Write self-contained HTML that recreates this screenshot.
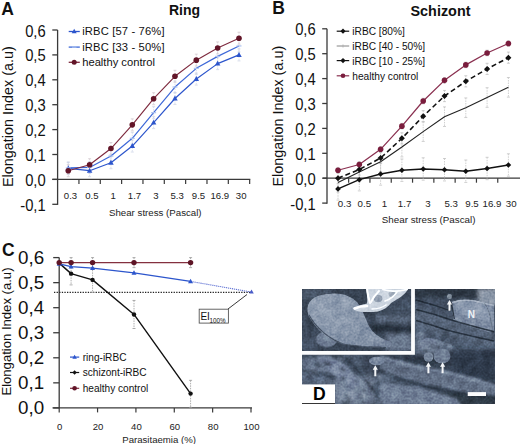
<!DOCTYPE html>
<html><head><meta charset="utf-8"><style>
html,body{margin:0;padding:0;background:#fff;}
svg{display:block;}
text{font-family:"Liberation Sans", sans-serif;}
</style></head><body>
<svg width="520" height="444" viewBox="0 0 520 444">
<rect width="520" height="444" fill="#fff"/>
<text x="1.20" y="14.60" font-size="17.5" text-anchor="start" font-weight="bold" fill="#111" >A</text>
<text x="169.00" y="15.00" font-size="14" text-anchor="start" font-weight="bold" fill="#111" >Ring</text>
<line x1="57.60" y1="30.00" x2="57.60" y2="204.90" stroke="#3a3a3a" stroke-width="1.3" />
<line x1="52.30" y1="30.00" x2="57.60" y2="30.00" stroke="#3a3a3a" stroke-width="1.3" />
<text transform="translate(45.70,36.50) scale(0.955,1.1)" font-size="15.5" text-anchor="end" font-weight="normal" fill="#111" >0,6</text>
<line x1="52.30" y1="54.90" x2="57.60" y2="54.90" stroke="#3a3a3a" stroke-width="1.3" />
<text transform="translate(45.70,61.40) scale(0.955,1.1)" font-size="15.5" text-anchor="end" font-weight="normal" fill="#111" >0,5</text>
<line x1="52.30" y1="79.80" x2="57.60" y2="79.80" stroke="#3a3a3a" stroke-width="1.3" />
<text transform="translate(45.70,86.30) scale(0.955,1.1)" font-size="15.5" text-anchor="end" font-weight="normal" fill="#111" >0,4</text>
<line x1="52.30" y1="104.70" x2="57.60" y2="104.70" stroke="#3a3a3a" stroke-width="1.3" />
<text transform="translate(45.70,111.20) scale(0.955,1.1)" font-size="15.5" text-anchor="end" font-weight="normal" fill="#111" >0,3</text>
<line x1="52.30" y1="129.60" x2="57.60" y2="129.60" stroke="#3a3a3a" stroke-width="1.3" />
<text transform="translate(45.70,136.10) scale(0.955,1.1)" font-size="15.5" text-anchor="end" font-weight="normal" fill="#111" >0,2</text>
<line x1="52.30" y1="154.50" x2="57.60" y2="154.50" stroke="#3a3a3a" stroke-width="1.3" />
<text transform="translate(45.70,161.00) scale(0.955,1.1)" font-size="15.5" text-anchor="end" font-weight="normal" fill="#111" >0,1</text>
<line x1="52.30" y1="179.40" x2="57.60" y2="179.40" stroke="#3a3a3a" stroke-width="1.3" />
<text transform="translate(45.70,185.90) scale(0.955,1.1)" font-size="15.5" text-anchor="end" font-weight="normal" fill="#111" >0,0</text>
<line x1="52.30" y1="204.30" x2="57.60" y2="204.30" stroke="#3a3a3a" stroke-width="1.3" />
<text transform="translate(45.70,210.80) scale(0.955,1.1)" font-size="15.5" text-anchor="end" font-weight="normal" fill="#111" >-0,1</text>
<line x1="52.30" y1="179.40" x2="250.30" y2="179.40" stroke="#3a3a3a" stroke-width="1.3" />
<line x1="78.94" y1="179.40" x2="78.94" y2="183.90" stroke="#3a3a3a" stroke-width="1.2" />
<line x1="100.28" y1="179.40" x2="100.28" y2="183.90" stroke="#3a3a3a" stroke-width="1.2" />
<line x1="121.62" y1="179.40" x2="121.62" y2="183.90" stroke="#3a3a3a" stroke-width="1.2" />
<line x1="142.96" y1="179.40" x2="142.96" y2="183.90" stroke="#3a3a3a" stroke-width="1.2" />
<line x1="164.30" y1="179.40" x2="164.30" y2="183.90" stroke="#3a3a3a" stroke-width="1.2" />
<line x1="185.64" y1="179.40" x2="185.64" y2="183.90" stroke="#3a3a3a" stroke-width="1.2" />
<line x1="206.98" y1="179.40" x2="206.98" y2="183.90" stroke="#3a3a3a" stroke-width="1.2" />
<line x1="228.32" y1="179.40" x2="228.32" y2="183.90" stroke="#3a3a3a" stroke-width="1.2" />
<line x1="249.66" y1="179.40" x2="249.66" y2="183.90" stroke="#3a3a3a" stroke-width="1.2" />
<text x="70.47" y="198.70" font-size="9.6" text-anchor="middle" font-weight="normal" fill="#222" >0.3</text>
<text x="91.81" y="198.70" font-size="9.6" text-anchor="middle" font-weight="normal" fill="#222" >0.5</text>
<text x="113.15" y="198.70" font-size="9.6" text-anchor="middle" font-weight="normal" fill="#222" >1</text>
<text x="134.49" y="198.70" font-size="9.6" text-anchor="middle" font-weight="normal" fill="#222" >1.7</text>
<text x="155.83" y="198.70" font-size="9.6" text-anchor="middle" font-weight="normal" fill="#222" >3</text>
<text x="177.17" y="198.70" font-size="9.6" text-anchor="middle" font-weight="normal" fill="#222" >5.3</text>
<text x="198.51" y="198.70" font-size="9.6" text-anchor="middle" font-weight="normal" fill="#222" >9.5</text>
<text x="219.85" y="198.70" font-size="9.6" text-anchor="middle" font-weight="normal" fill="#222" >16.9</text>
<text x="241.19" y="198.70" font-size="9.6" text-anchor="middle" font-weight="normal" fill="#222" >30</text>
<text x="109.00" y="216.20" font-size="9.7" text-anchor="start" font-weight="normal" fill="#222" >Shear stress (Pascal)</text>
<text transform="translate(12.9,187) rotate(-90)" font-size="14.4" fill="#111">Elongation Index (a.u)</text>
<line x1="68.27" y1="161.95" x2="68.27" y2="173.95" stroke="#c8d0e4" stroke-width="0.7" stroke-dasharray="1.5,1"/>
<line x1="66.77" y1="161.95" x2="69.77" y2="161.95" stroke="#c8d0e4" stroke-width="0.7"/>
<line x1="66.77" y1="173.95" x2="69.77" y2="173.95" stroke="#c8d0e4" stroke-width="0.7"/>
<line x1="89.61" y1="161.45" x2="89.61" y2="173.45" stroke="#c8d0e4" stroke-width="0.7" stroke-dasharray="1.5,1"/>
<line x1="88.11" y1="161.45" x2="91.11" y2="161.45" stroke="#c8d0e4" stroke-width="0.7"/>
<line x1="88.11" y1="173.45" x2="91.11" y2="173.45" stroke="#c8d0e4" stroke-width="0.7"/>
<line x1="110.95" y1="149.99" x2="110.95" y2="161.99" stroke="#c8d0e4" stroke-width="0.7" stroke-dasharray="1.5,1"/>
<line x1="109.45" y1="149.99" x2="112.45" y2="149.99" stroke="#c8d0e4" stroke-width="0.7"/>
<line x1="109.45" y1="161.99" x2="112.45" y2="161.99" stroke="#c8d0e4" stroke-width="0.7"/>
<line x1="132.29" y1="132.31" x2="132.29" y2="144.31" stroke="#c8d0e4" stroke-width="0.7" stroke-dasharray="1.5,1"/>
<line x1="130.79" y1="132.31" x2="133.79" y2="132.31" stroke="#c8d0e4" stroke-width="0.7"/>
<line x1="130.79" y1="144.31" x2="133.79" y2="144.31" stroke="#c8d0e4" stroke-width="0.7"/>
<line x1="153.63" y1="106.67" x2="153.63" y2="118.67" stroke="#c8d0e4" stroke-width="0.7" stroke-dasharray="1.5,1"/>
<line x1="152.13" y1="106.67" x2="155.13" y2="106.67" stroke="#c8d0e4" stroke-width="0.7"/>
<line x1="152.13" y1="118.67" x2="155.13" y2="118.67" stroke="#c8d0e4" stroke-width="0.7"/>
<line x1="174.97" y1="81.02" x2="174.97" y2="93.02" stroke="#c8d0e4" stroke-width="0.7" stroke-dasharray="1.5,1"/>
<line x1="173.47" y1="81.02" x2="176.47" y2="81.02" stroke="#c8d0e4" stroke-width="0.7"/>
<line x1="173.47" y1="93.02" x2="176.47" y2="93.02" stroke="#c8d0e4" stroke-width="0.7"/>
<line x1="196.31" y1="62.35" x2="196.31" y2="74.35" stroke="#c8d0e4" stroke-width="0.7" stroke-dasharray="1.5,1"/>
<line x1="194.81" y1="62.35" x2="197.81" y2="62.35" stroke="#c8d0e4" stroke-width="0.7"/>
<line x1="194.81" y1="74.35" x2="197.81" y2="74.35" stroke="#c8d0e4" stroke-width="0.7"/>
<line x1="217.65" y1="50.39" x2="217.65" y2="62.39" stroke="#c8d0e4" stroke-width="0.7" stroke-dasharray="1.5,1"/>
<line x1="216.15" y1="50.39" x2="219.15" y2="50.39" stroke="#c8d0e4" stroke-width="0.7"/>
<line x1="216.15" y1="62.39" x2="219.15" y2="62.39" stroke="#c8d0e4" stroke-width="0.7"/>
<line x1="238.99" y1="39.94" x2="238.99" y2="51.94" stroke="#c8d0e4" stroke-width="0.7" stroke-dasharray="1.5,1"/>
<line x1="237.49" y1="39.94" x2="240.49" y2="39.94" stroke="#c8d0e4" stroke-width="0.7"/>
<line x1="237.49" y1="51.94" x2="240.49" y2="51.94" stroke="#c8d0e4" stroke-width="0.7"/>
<line x1="68.27" y1="162.44" x2="68.27" y2="174.44" stroke="#c8d0e4" stroke-width="0.7" stroke-dasharray="1.5,1"/>
<line x1="66.77" y1="162.44" x2="69.77" y2="162.44" stroke="#c8d0e4" stroke-width="0.7"/>
<line x1="66.77" y1="174.44" x2="69.77" y2="174.44" stroke="#c8d0e4" stroke-width="0.7"/>
<line x1="89.61" y1="164.69" x2="89.61" y2="176.69" stroke="#c8d0e4" stroke-width="0.7" stroke-dasharray="1.5,1"/>
<line x1="88.11" y1="164.69" x2="91.11" y2="164.69" stroke="#c8d0e4" stroke-width="0.7"/>
<line x1="88.11" y1="176.69" x2="91.11" y2="176.69" stroke="#c8d0e4" stroke-width="0.7"/>
<line x1="110.95" y1="156.72" x2="110.95" y2="168.72" stroke="#c8d0e4" stroke-width="0.7" stroke-dasharray="1.5,1"/>
<line x1="109.45" y1="156.72" x2="112.45" y2="156.72" stroke="#c8d0e4" stroke-width="0.7"/>
<line x1="109.45" y1="168.72" x2="112.45" y2="168.72" stroke="#c8d0e4" stroke-width="0.7"/>
<line x1="132.29" y1="140.03" x2="132.29" y2="152.03" stroke="#c8d0e4" stroke-width="0.7" stroke-dasharray="1.5,1"/>
<line x1="130.79" y1="140.03" x2="133.79" y2="140.03" stroke="#c8d0e4" stroke-width="0.7"/>
<line x1="130.79" y1="152.03" x2="133.79" y2="152.03" stroke="#c8d0e4" stroke-width="0.7"/>
<line x1="153.63" y1="116.63" x2="153.63" y2="128.63" stroke="#c8d0e4" stroke-width="0.7" stroke-dasharray="1.5,1"/>
<line x1="152.13" y1="116.63" x2="155.13" y2="116.63" stroke="#c8d0e4" stroke-width="0.7"/>
<line x1="152.13" y1="128.63" x2="155.13" y2="128.63" stroke="#c8d0e4" stroke-width="0.7"/>
<line x1="174.97" y1="92.48" x2="174.97" y2="104.48" stroke="#c8d0e4" stroke-width="0.7" stroke-dasharray="1.5,1"/>
<line x1="173.47" y1="92.48" x2="176.47" y2="92.48" stroke="#c8d0e4" stroke-width="0.7"/>
<line x1="173.47" y1="104.48" x2="176.47" y2="104.48" stroke="#c8d0e4" stroke-width="0.7"/>
<line x1="196.31" y1="73.05" x2="196.31" y2="85.05" stroke="#c8d0e4" stroke-width="0.7" stroke-dasharray="1.5,1"/>
<line x1="194.81" y1="73.05" x2="197.81" y2="73.05" stroke="#c8d0e4" stroke-width="0.7"/>
<line x1="194.81" y1="85.05" x2="197.81" y2="85.05" stroke="#c8d0e4" stroke-width="0.7"/>
<line x1="217.65" y1="57.62" x2="217.65" y2="69.62" stroke="#c8d0e4" stroke-width="0.7" stroke-dasharray="1.5,1"/>
<line x1="216.15" y1="57.62" x2="219.15" y2="57.62" stroke="#c8d0e4" stroke-width="0.7"/>
<line x1="216.15" y1="69.62" x2="219.15" y2="69.62" stroke="#c8d0e4" stroke-width="0.7"/>
<line x1="238.99" y1="48.90" x2="238.99" y2="60.90" stroke="#c8d0e4" stroke-width="0.7" stroke-dasharray="1.5,1"/>
<line x1="237.49" y1="48.90" x2="240.49" y2="48.90" stroke="#c8d0e4" stroke-width="0.7"/>
<line x1="237.49" y1="60.90" x2="240.49" y2="60.90" stroke="#c8d0e4" stroke-width="0.7"/>
<line x1="68.27" y1="164.69" x2="68.27" y2="176.69" stroke="#d0c4cc" stroke-width="0.7" stroke-dasharray="1.5,1"/>
<line x1="66.77" y1="164.69" x2="69.77" y2="164.69" stroke="#d0c4cc" stroke-width="0.7"/>
<line x1="66.77" y1="176.69" x2="69.77" y2="176.69" stroke="#d0c4cc" stroke-width="0.7"/>
<line x1="89.61" y1="158.71" x2="89.61" y2="170.71" stroke="#d0c4cc" stroke-width="0.7" stroke-dasharray="1.5,1"/>
<line x1="88.11" y1="158.71" x2="91.11" y2="158.71" stroke="#d0c4cc" stroke-width="0.7"/>
<line x1="88.11" y1="170.71" x2="91.11" y2="170.71" stroke="#d0c4cc" stroke-width="0.7"/>
<line x1="110.95" y1="142.52" x2="110.95" y2="154.52" stroke="#d0c4cc" stroke-width="0.7" stroke-dasharray="1.5,1"/>
<line x1="109.45" y1="142.52" x2="112.45" y2="142.52" stroke="#d0c4cc" stroke-width="0.7"/>
<line x1="109.45" y1="154.52" x2="112.45" y2="154.52" stroke="#d0c4cc" stroke-width="0.7"/>
<line x1="132.29" y1="118.87" x2="132.29" y2="130.87" stroke="#d0c4cc" stroke-width="0.7" stroke-dasharray="1.5,1"/>
<line x1="130.79" y1="118.87" x2="133.79" y2="118.87" stroke="#d0c4cc" stroke-width="0.7"/>
<line x1="130.79" y1="130.87" x2="133.79" y2="130.87" stroke="#d0c4cc" stroke-width="0.7"/>
<line x1="153.63" y1="92.72" x2="153.63" y2="104.72" stroke="#d0c4cc" stroke-width="0.7" stroke-dasharray="1.5,1"/>
<line x1="152.13" y1="92.72" x2="155.13" y2="92.72" stroke="#d0c4cc" stroke-width="0.7"/>
<line x1="152.13" y1="104.72" x2="155.13" y2="104.72" stroke="#d0c4cc" stroke-width="0.7"/>
<line x1="174.97" y1="70.31" x2="174.97" y2="82.31" stroke="#d0c4cc" stroke-width="0.7" stroke-dasharray="1.5,1"/>
<line x1="173.47" y1="70.31" x2="176.47" y2="70.31" stroke="#d0c4cc" stroke-width="0.7"/>
<line x1="173.47" y1="82.31" x2="176.47" y2="82.31" stroke="#d0c4cc" stroke-width="0.7"/>
<line x1="196.31" y1="54.13" x2="196.31" y2="66.13" stroke="#d0c4cc" stroke-width="0.7" stroke-dasharray="1.5,1"/>
<line x1="194.81" y1="54.13" x2="197.81" y2="54.13" stroke="#d0c4cc" stroke-width="0.7"/>
<line x1="194.81" y1="66.13" x2="197.81" y2="66.13" stroke="#d0c4cc" stroke-width="0.7"/>
<line x1="217.65" y1="41.93" x2="217.65" y2="53.93" stroke="#d0c4cc" stroke-width="0.7" stroke-dasharray="1.5,1"/>
<line x1="216.15" y1="41.93" x2="219.15" y2="41.93" stroke="#d0c4cc" stroke-width="0.7"/>
<line x1="216.15" y1="53.93" x2="219.15" y2="53.93" stroke="#d0c4cc" stroke-width="0.7"/>
<line x1="238.99" y1="32.22" x2="238.99" y2="44.22" stroke="#d0c4cc" stroke-width="0.7" stroke-dasharray="1.5,1"/>
<line x1="237.49" y1="32.22" x2="240.49" y2="32.22" stroke="#d0c4cc" stroke-width="0.7"/>
<line x1="237.49" y1="44.22" x2="240.49" y2="44.22" stroke="#d0c4cc" stroke-width="0.7"/>
<polyline points="68.27,168.44 89.61,170.69 110.95,162.72 132.29,146.03 153.63,122.63 174.97,98.48 196.31,79.05 217.65,63.62 238.99,54.90" fill="none" stroke="#2c55cc" stroke-width="1.2" stroke-linejoin="round" />
<polyline points="68.27,167.95 89.61,167.45 110.95,155.99 132.29,138.31 153.63,112.67 174.97,87.02 196.31,68.35 217.65,56.39 238.99,45.94" fill="none" stroke="#3d68d8" stroke-width="1.2" stroke-linejoin="round" />
<polyline points="68.27,170.69 89.61,164.71 110.95,148.52 132.29,124.87 153.63,98.72 174.97,76.31 196.31,60.13 217.65,47.93 238.99,38.22" fill="none" stroke="#7e2a3e" stroke-width="1.15" stroke-linejoin="round" />
<polygon points="68.27,165.47 65.52,170.42 71.02,170.42" fill="#2c55cc"/>
<polygon points="89.61,167.72 86.86,172.66 92.36,172.66" fill="#2c55cc"/>
<polygon points="110.95,159.75 108.20,164.70 113.70,164.70" fill="#2c55cc"/>
<polygon points="132.29,143.06 129.54,148.01 135.04,148.01" fill="#2c55cc"/>
<polygon points="153.63,119.66 150.88,124.61 156.38,124.61" fill="#2c55cc"/>
<polygon points="174.97,95.51 172.22,100.46 177.72,100.46" fill="#2c55cc"/>
<polygon points="196.31,76.08 193.56,81.03 199.06,81.03" fill="#2c55cc"/>
<polygon points="217.65,60.65 214.90,65.60 220.40,65.60" fill="#2c55cc"/>
<polygon points="238.99,51.93 236.24,56.88 241.74,56.88" fill="#2c55cc"/>
<line x1="65.77" y1="167.95" x2="70.77" y2="167.95" stroke="#a9c0f0" stroke-width="1.2" />
<line x1="87.11" y1="167.45" x2="92.11" y2="167.45" stroke="#a9c0f0" stroke-width="1.2" />
<line x1="108.45" y1="155.99" x2="113.45" y2="155.99" stroke="#a9c0f0" stroke-width="1.2" />
<line x1="129.79" y1="138.31" x2="134.79" y2="138.31" stroke="#a9c0f0" stroke-width="1.2" />
<line x1="151.13" y1="112.67" x2="156.13" y2="112.67" stroke="#a9c0f0" stroke-width="1.2" />
<line x1="172.47" y1="87.02" x2="177.47" y2="87.02" stroke="#a9c0f0" stroke-width="1.2" />
<line x1="193.81" y1="68.35" x2="198.81" y2="68.35" stroke="#a9c0f0" stroke-width="1.2" />
<line x1="215.15" y1="56.39" x2="220.15" y2="56.39" stroke="#a9c0f0" stroke-width="1.2" />
<line x1="236.49" y1="45.94" x2="241.49" y2="45.94" stroke="#a9c0f0" stroke-width="1.2" />
<circle cx="68.27" cy="170.69" r="2.8" fill="#621528"/>
<circle cx="89.61" cy="164.71" r="2.8" fill="#621528"/>
<circle cx="110.95" cy="148.52" r="2.8" fill="#621528"/>
<circle cx="132.29" cy="124.87" r="2.8" fill="#621528"/>
<circle cx="153.63" cy="98.72" r="2.8" fill="#621528"/>
<circle cx="174.97" cy="76.31" r="2.8" fill="#621528"/>
<circle cx="196.31" cy="60.13" r="2.8" fill="#621528"/>
<circle cx="217.65" cy="47.93" r="2.8" fill="#621528"/>
<circle cx="238.99" cy="38.22" r="2.8" fill="#621528"/>
<line x1="68.70" y1="31.50" x2="79.80" y2="31.50" stroke="#2c55cc" stroke-width="1.3" />
<polygon points="74.20,28.80 71.70,33.30 76.70,33.30" fill="#2c55cc"/>
<text x="82.20" y="35.40" font-size="11.2" text-anchor="start" font-weight="normal" fill="#111" letter-spacing="0.15">iRBC [57 - 76%]</text>
<line x1="68.70" y1="47.10" x2="79.80" y2="47.10" stroke="#3d68d8" stroke-width="1.3" />
<line x1="72.00" y1="47.10" x2="76.50" y2="47.10" stroke="#a9c0f0" stroke-width="1.2" />
<text x="82.20" y="51.00" font-size="11.2" text-anchor="start" font-weight="normal" fill="#111" letter-spacing="0.15">iRBC [33 - 50%]</text>
<line x1="68.70" y1="62.30" x2="79.80" y2="62.30" stroke="#7e2a3e" stroke-width="1.3" />
<circle cx="74.20" cy="62.30" r="2.5" fill="#621528"/>
<text x="82.20" y="66.20" font-size="11.2" text-anchor="start" font-weight="normal" fill="#111" >healthy control</text>
<text x="272.30" y="13.70" font-size="17.5" text-anchor="start" font-weight="bold" fill="#111" >B</text>
<text x="410.50" y="16.20" font-size="14.4" text-anchor="start" font-weight="bold" fill="#111" >Schizont</text>
<line x1="327.00" y1="28.80" x2="327.00" y2="203.70" stroke="#3a3a3a" stroke-width="1.3" />
<line x1="322.20" y1="28.80" x2="327.00" y2="28.80" stroke="#3a3a3a" stroke-width="1.3" />
<text transform="translate(315.70,35.30) scale(0.955,1.1)" font-size="15.5" text-anchor="end" font-weight="normal" fill="#111" >0,6</text>
<line x1="322.20" y1="53.70" x2="327.00" y2="53.70" stroke="#3a3a3a" stroke-width="1.3" />
<text transform="translate(315.70,60.20) scale(0.955,1.1)" font-size="15.5" text-anchor="end" font-weight="normal" fill="#111" >0,5</text>
<line x1="322.20" y1="78.60" x2="327.00" y2="78.60" stroke="#3a3a3a" stroke-width="1.3" />
<text transform="translate(315.70,85.10) scale(0.955,1.1)" font-size="15.5" text-anchor="end" font-weight="normal" fill="#111" >0,4</text>
<line x1="322.20" y1="103.50" x2="327.00" y2="103.50" stroke="#3a3a3a" stroke-width="1.3" />
<text transform="translate(315.70,110.00) scale(0.955,1.1)" font-size="15.5" text-anchor="end" font-weight="normal" fill="#111" >0,3</text>
<line x1="322.20" y1="128.40" x2="327.00" y2="128.40" stroke="#3a3a3a" stroke-width="1.3" />
<text transform="translate(315.70,134.90) scale(0.955,1.1)" font-size="15.5" text-anchor="end" font-weight="normal" fill="#111" >0,2</text>
<line x1="322.20" y1="153.30" x2="327.00" y2="153.30" stroke="#3a3a3a" stroke-width="1.3" />
<text transform="translate(315.70,159.80) scale(0.955,1.1)" font-size="15.5" text-anchor="end" font-weight="normal" fill="#111" >0,1</text>
<line x1="322.20" y1="178.20" x2="327.00" y2="178.20" stroke="#3a3a3a" stroke-width="1.3" />
<text transform="translate(315.70,184.70) scale(0.955,1.1)" font-size="15.5" text-anchor="end" font-weight="normal" fill="#111" >0,0</text>
<line x1="322.20" y1="203.10" x2="327.00" y2="203.10" stroke="#3a3a3a" stroke-width="1.3" />
<text transform="translate(315.70,209.60) scale(0.955,1.1)" font-size="15.5" text-anchor="end" font-weight="normal" fill="#111" >-0,1</text>
<line x1="322.80" y1="178.20" x2="520.00" y2="178.20" stroke="#3a3a3a" stroke-width="1.3" />
<line x1="348.65" y1="178.20" x2="348.65" y2="182.70" stroke="#3a3a3a" stroke-width="1.2" />
<line x1="369.95" y1="178.20" x2="369.95" y2="182.70" stroke="#3a3a3a" stroke-width="1.2" />
<line x1="391.25" y1="178.20" x2="391.25" y2="182.70" stroke="#3a3a3a" stroke-width="1.2" />
<line x1="412.55" y1="178.20" x2="412.55" y2="182.70" stroke="#3a3a3a" stroke-width="1.2" />
<line x1="433.85" y1="178.20" x2="433.85" y2="182.70" stroke="#3a3a3a" stroke-width="1.2" />
<line x1="455.15" y1="178.20" x2="455.15" y2="182.70" stroke="#3a3a3a" stroke-width="1.2" />
<line x1="476.45" y1="178.20" x2="476.45" y2="182.70" stroke="#3a3a3a" stroke-width="1.2" />
<line x1="497.75" y1="178.20" x2="497.75" y2="182.70" stroke="#3a3a3a" stroke-width="1.2" />
<text x="344.60" y="206.80" font-size="9.7" text-anchor="middle" font-weight="normal" fill="#222" >0.3</text>
<text x="364.30" y="206.80" font-size="9.7" text-anchor="middle" font-weight="normal" fill="#222" >0.5</text>
<text x="384.50" y="206.80" font-size="9.7" text-anchor="middle" font-weight="normal" fill="#222" >1</text>
<text x="404.60" y="206.80" font-size="9.7" text-anchor="middle" font-weight="normal" fill="#222" >1.7</text>
<text x="428.00" y="206.80" font-size="9.7" text-anchor="middle" font-weight="normal" fill="#222" >3</text>
<text x="451.20" y="206.80" font-size="9.7" text-anchor="middle" font-weight="normal" fill="#222" >5.3</text>
<text x="472.00" y="206.80" font-size="9.7" text-anchor="middle" font-weight="normal" fill="#222" >9.5</text>
<text x="492.00" y="206.80" font-size="9.7" text-anchor="middle" font-weight="normal" fill="#222" >16.9</text>
<text x="511.20" y="206.80" font-size="9.7" text-anchor="middle" font-weight="normal" fill="#222" >30</text>
<text x="381.80" y="223.30" font-size="9.8" text-anchor="start" font-weight="normal" fill="#222" >Shear stress (Pascal)</text>
<text transform="translate(283,186.6) rotate(-90)" font-size="14.4" fill="#111">Elongation Index (a.u)</text>
<line x1="338.00" y1="167.43" x2="338.00" y2="173.03" stroke="#bcbcbc" stroke-width="0.7" stroke-dasharray="1.5,1"/>
<line x1="336.50" y1="167.43" x2="339.50" y2="167.43" stroke="#bcbcbc" stroke-width="0.7"/>
<line x1="336.50" y1="173.03" x2="339.50" y2="173.03" stroke="#bcbcbc" stroke-width="0.7"/>
<line x1="359.30" y1="161.70" x2="359.30" y2="167.31" stroke="#bcbcbc" stroke-width="0.7" stroke-dasharray="1.5,1"/>
<line x1="357.80" y1="161.70" x2="360.80" y2="161.70" stroke="#bcbcbc" stroke-width="0.7"/>
<line x1="357.80" y1="167.31" x2="360.80" y2="167.31" stroke="#bcbcbc" stroke-width="0.7"/>
<line x1="380.60" y1="146.52" x2="380.60" y2="152.12" stroke="#bcbcbc" stroke-width="0.7" stroke-dasharray="1.5,1"/>
<line x1="379.10" y1="146.52" x2="382.10" y2="146.52" stroke="#bcbcbc" stroke-width="0.7"/>
<line x1="379.10" y1="152.12" x2="382.10" y2="152.12" stroke="#bcbcbc" stroke-width="0.7"/>
<line x1="401.90" y1="123.36" x2="401.90" y2="128.96" stroke="#bcbcbc" stroke-width="0.7" stroke-dasharray="1.5,1"/>
<line x1="400.40" y1="123.36" x2="403.40" y2="123.36" stroke="#bcbcbc" stroke-width="0.7"/>
<line x1="400.40" y1="128.96" x2="403.40" y2="128.96" stroke="#bcbcbc" stroke-width="0.7"/>
<line x1="423.20" y1="98.21" x2="423.20" y2="103.81" stroke="#bcbcbc" stroke-width="0.7" stroke-dasharray="1.5,1"/>
<line x1="421.70" y1="98.21" x2="424.70" y2="98.21" stroke="#bcbcbc" stroke-width="0.7"/>
<line x1="421.70" y1="103.81" x2="424.70" y2="103.81" stroke="#bcbcbc" stroke-width="0.7"/>
<line x1="444.50" y1="77.54" x2="444.50" y2="83.14" stroke="#bcbcbc" stroke-width="0.7" stroke-dasharray="1.5,1"/>
<line x1="443.00" y1="77.54" x2="446.00" y2="77.54" stroke="#bcbcbc" stroke-width="0.7"/>
<line x1="443.00" y1="83.14" x2="446.00" y2="83.14" stroke="#bcbcbc" stroke-width="0.7"/>
<line x1="465.80" y1="62.11" x2="465.80" y2="67.70" stroke="#bcbcbc" stroke-width="0.7" stroke-dasharray="1.5,1"/>
<line x1="464.30" y1="62.11" x2="467.30" y2="62.11" stroke="#bcbcbc" stroke-width="0.7"/>
<line x1="464.30" y1="67.70" x2="467.30" y2="67.70" stroke="#bcbcbc" stroke-width="0.7"/>
<line x1="487.10" y1="50.15" x2="487.10" y2="55.75" stroke="#bcbcbc" stroke-width="0.7" stroke-dasharray="1.5,1"/>
<line x1="485.60" y1="50.15" x2="488.60" y2="50.15" stroke="#bcbcbc" stroke-width="0.7"/>
<line x1="485.60" y1="55.75" x2="488.60" y2="55.75" stroke="#bcbcbc" stroke-width="0.7"/>
<line x1="508.40" y1="40.69" x2="508.40" y2="46.29" stroke="#bcbcbc" stroke-width="0.7" stroke-dasharray="1.5,1"/>
<line x1="506.90" y1="40.69" x2="509.90" y2="40.69" stroke="#bcbcbc" stroke-width="0.7"/>
<line x1="506.90" y1="46.29" x2="509.90" y2="46.29" stroke="#bcbcbc" stroke-width="0.7"/>
<line x1="338.00" y1="172.60" x2="338.00" y2="183.80" stroke="#bcbcbc" stroke-width="0.7" stroke-dasharray="1.5,1"/>
<line x1="336.50" y1="172.60" x2="339.50" y2="172.60" stroke="#bcbcbc" stroke-width="0.7"/>
<line x1="336.50" y1="183.80" x2="339.50" y2="183.80" stroke="#bcbcbc" stroke-width="0.7"/>
<line x1="359.30" y1="163.88" x2="359.30" y2="175.08" stroke="#bcbcbc" stroke-width="0.7" stroke-dasharray="1.5,1"/>
<line x1="357.80" y1="163.88" x2="360.80" y2="163.88" stroke="#bcbcbc" stroke-width="0.7"/>
<line x1="357.80" y1="175.08" x2="360.80" y2="175.08" stroke="#bcbcbc" stroke-width="0.7"/>
<line x1="380.60" y1="152.43" x2="380.60" y2="163.63" stroke="#bcbcbc" stroke-width="0.7" stroke-dasharray="1.5,1"/>
<line x1="379.10" y1="152.43" x2="382.10" y2="152.43" stroke="#bcbcbc" stroke-width="0.7"/>
<line x1="379.10" y1="163.63" x2="382.10" y2="163.63" stroke="#bcbcbc" stroke-width="0.7"/>
<line x1="401.90" y1="132.76" x2="401.90" y2="143.96" stroke="#bcbcbc" stroke-width="0.7" stroke-dasharray="1.5,1"/>
<line x1="400.40" y1="132.76" x2="403.40" y2="132.76" stroke="#bcbcbc" stroke-width="0.7"/>
<line x1="400.40" y1="143.96" x2="403.40" y2="143.96" stroke="#bcbcbc" stroke-width="0.7"/>
<line x1="423.20" y1="110.60" x2="423.20" y2="121.80" stroke="#bcbcbc" stroke-width="0.7" stroke-dasharray="1.5,1"/>
<line x1="421.70" y1="110.60" x2="424.70" y2="110.60" stroke="#bcbcbc" stroke-width="0.7"/>
<line x1="421.70" y1="121.80" x2="424.70" y2="121.80" stroke="#bcbcbc" stroke-width="0.7"/>
<line x1="444.50" y1="90.43" x2="444.50" y2="101.63" stroke="#bcbcbc" stroke-width="0.7" stroke-dasharray="1.5,1"/>
<line x1="443.00" y1="90.43" x2="446.00" y2="90.43" stroke="#bcbcbc" stroke-width="0.7"/>
<line x1="443.00" y1="101.63" x2="446.00" y2="101.63" stroke="#bcbcbc" stroke-width="0.7"/>
<line x1="465.80" y1="75.74" x2="465.80" y2="86.94" stroke="#bcbcbc" stroke-width="0.7" stroke-dasharray="1.5,1"/>
<line x1="464.30" y1="75.74" x2="467.30" y2="75.74" stroke="#bcbcbc" stroke-width="0.7"/>
<line x1="464.30" y1="86.94" x2="467.30" y2="86.94" stroke="#bcbcbc" stroke-width="0.7"/>
<line x1="487.10" y1="63.29" x2="487.10" y2="74.49" stroke="#bcbcbc" stroke-width="0.7" stroke-dasharray="1.5,1"/>
<line x1="485.60" y1="63.29" x2="488.60" y2="63.29" stroke="#bcbcbc" stroke-width="0.7"/>
<line x1="485.60" y1="74.49" x2="488.60" y2="74.49" stroke="#bcbcbc" stroke-width="0.7"/>
<line x1="508.40" y1="52.08" x2="508.40" y2="63.28" stroke="#bcbcbc" stroke-width="0.7" stroke-dasharray="1.5,1"/>
<line x1="506.90" y1="52.08" x2="509.90" y2="52.08" stroke="#bcbcbc" stroke-width="0.7"/>
<line x1="506.90" y1="63.28" x2="509.90" y2="63.28" stroke="#bcbcbc" stroke-width="0.7"/>
<line x1="338.00" y1="172.63" x2="338.00" y2="192.23" stroke="#bcbcbc" stroke-width="0.7" stroke-dasharray="1.5,1"/>
<line x1="336.50" y1="172.63" x2="339.50" y2="172.63" stroke="#bcbcbc" stroke-width="0.7"/>
<line x1="336.50" y1="192.23" x2="339.50" y2="192.23" stroke="#bcbcbc" stroke-width="0.7"/>
<line x1="359.30" y1="162.17" x2="359.30" y2="181.78" stroke="#bcbcbc" stroke-width="0.7" stroke-dasharray="1.5,1"/>
<line x1="357.80" y1="162.17" x2="360.80" y2="162.17" stroke="#bcbcbc" stroke-width="0.7"/>
<line x1="357.80" y1="181.78" x2="360.80" y2="181.78" stroke="#bcbcbc" stroke-width="0.7"/>
<line x1="380.60" y1="151.97" x2="380.60" y2="171.57" stroke="#bcbcbc" stroke-width="0.7" stroke-dasharray="1.5,1"/>
<line x1="379.10" y1="151.97" x2="382.10" y2="151.97" stroke="#bcbcbc" stroke-width="0.7"/>
<line x1="379.10" y1="171.57" x2="382.10" y2="171.57" stroke="#bcbcbc" stroke-width="0.7"/>
<line x1="401.90" y1="137.27" x2="401.90" y2="156.88" stroke="#bcbcbc" stroke-width="0.7" stroke-dasharray="1.5,1"/>
<line x1="400.40" y1="137.27" x2="403.40" y2="137.27" stroke="#bcbcbc" stroke-width="0.7"/>
<line x1="400.40" y1="156.88" x2="403.40" y2="156.88" stroke="#bcbcbc" stroke-width="0.7"/>
<line x1="423.20" y1="121.84" x2="423.20" y2="141.44" stroke="#bcbcbc" stroke-width="0.7" stroke-dasharray="1.5,1"/>
<line x1="421.70" y1="121.84" x2="424.70" y2="121.84" stroke="#bcbcbc" stroke-width="0.7"/>
<line x1="421.70" y1="141.44" x2="424.70" y2="141.44" stroke="#bcbcbc" stroke-width="0.7"/>
<line x1="444.50" y1="106.90" x2="444.50" y2="126.50" stroke="#bcbcbc" stroke-width="0.7" stroke-dasharray="1.5,1"/>
<line x1="443.00" y1="106.90" x2="446.00" y2="106.90" stroke="#bcbcbc" stroke-width="0.7"/>
<line x1="443.00" y1="126.50" x2="446.00" y2="126.50" stroke="#bcbcbc" stroke-width="0.7"/>
<line x1="465.80" y1="97.93" x2="465.80" y2="117.53" stroke="#bcbcbc" stroke-width="0.7" stroke-dasharray="1.5,1"/>
<line x1="464.30" y1="97.93" x2="467.30" y2="97.93" stroke="#bcbcbc" stroke-width="0.7"/>
<line x1="464.30" y1="117.53" x2="467.30" y2="117.53" stroke="#bcbcbc" stroke-width="0.7"/>
<line x1="487.10" y1="87.72" x2="487.10" y2="107.32" stroke="#bcbcbc" stroke-width="0.7" stroke-dasharray="1.5,1"/>
<line x1="485.60" y1="87.72" x2="488.60" y2="87.72" stroke="#bcbcbc" stroke-width="0.7"/>
<line x1="485.60" y1="107.32" x2="488.60" y2="107.32" stroke="#bcbcbc" stroke-width="0.7"/>
<line x1="508.40" y1="77.52" x2="508.40" y2="97.11" stroke="#bcbcbc" stroke-width="0.7" stroke-dasharray="1.5,1"/>
<line x1="506.90" y1="77.52" x2="509.90" y2="77.52" stroke="#bcbcbc" stroke-width="0.7"/>
<line x1="506.90" y1="97.11" x2="509.90" y2="97.11" stroke="#bcbcbc" stroke-width="0.7"/>
<line x1="338.00" y1="177.71" x2="338.00" y2="200.11" stroke="#bcbcbc" stroke-width="0.7" stroke-dasharray="1.5,1"/>
<line x1="336.50" y1="177.71" x2="339.50" y2="177.71" stroke="#bcbcbc" stroke-width="0.7"/>
<line x1="336.50" y1="200.11" x2="339.50" y2="200.11" stroke="#bcbcbc" stroke-width="0.7"/>
<line x1="359.30" y1="168.49" x2="359.30" y2="190.89" stroke="#bcbcbc" stroke-width="0.7" stroke-dasharray="1.5,1"/>
<line x1="357.80" y1="168.49" x2="360.80" y2="168.49" stroke="#bcbcbc" stroke-width="0.7"/>
<line x1="357.80" y1="190.89" x2="360.80" y2="190.89" stroke="#bcbcbc" stroke-width="0.7"/>
<line x1="380.60" y1="162.77" x2="380.60" y2="185.17" stroke="#bcbcbc" stroke-width="0.7" stroke-dasharray="1.5,1"/>
<line x1="379.10" y1="162.77" x2="382.10" y2="162.77" stroke="#bcbcbc" stroke-width="0.7"/>
<line x1="379.10" y1="185.17" x2="382.10" y2="185.17" stroke="#bcbcbc" stroke-width="0.7"/>
<line x1="401.90" y1="159.03" x2="401.90" y2="181.43" stroke="#bcbcbc" stroke-width="0.7" stroke-dasharray="1.5,1"/>
<line x1="400.40" y1="159.03" x2="403.40" y2="159.03" stroke="#bcbcbc" stroke-width="0.7"/>
<line x1="400.40" y1="181.43" x2="403.40" y2="181.43" stroke="#bcbcbc" stroke-width="0.7"/>
<line x1="423.20" y1="157.79" x2="423.20" y2="180.19" stroke="#bcbcbc" stroke-width="0.7" stroke-dasharray="1.5,1"/>
<line x1="421.70" y1="157.79" x2="424.70" y2="157.79" stroke="#bcbcbc" stroke-width="0.7"/>
<line x1="421.70" y1="180.19" x2="424.70" y2="180.19" stroke="#bcbcbc" stroke-width="0.7"/>
<line x1="444.50" y1="158.53" x2="444.50" y2="180.93" stroke="#bcbcbc" stroke-width="0.7" stroke-dasharray="1.5,1"/>
<line x1="443.00" y1="158.53" x2="446.00" y2="158.53" stroke="#bcbcbc" stroke-width="0.7"/>
<line x1="443.00" y1="180.93" x2="446.00" y2="180.93" stroke="#bcbcbc" stroke-width="0.7"/>
<line x1="465.80" y1="160.03" x2="465.80" y2="182.43" stroke="#bcbcbc" stroke-width="0.7" stroke-dasharray="1.5,1"/>
<line x1="464.30" y1="160.03" x2="467.30" y2="160.03" stroke="#bcbcbc" stroke-width="0.7"/>
<line x1="464.30" y1="182.43" x2="467.30" y2="182.43" stroke="#bcbcbc" stroke-width="0.7"/>
<line x1="487.10" y1="157.29" x2="487.10" y2="179.69" stroke="#bcbcbc" stroke-width="0.7" stroke-dasharray="1.5,1"/>
<line x1="485.60" y1="157.29" x2="488.60" y2="157.29" stroke="#bcbcbc" stroke-width="0.7"/>
<line x1="485.60" y1="179.69" x2="488.60" y2="179.69" stroke="#bcbcbc" stroke-width="0.7"/>
<line x1="508.40" y1="153.80" x2="508.40" y2="176.20" stroke="#bcbcbc" stroke-width="0.7" stroke-dasharray="1.5,1"/>
<line x1="506.90" y1="153.80" x2="509.90" y2="153.80" stroke="#bcbcbc" stroke-width="0.7"/>
<line x1="506.90" y1="176.20" x2="509.90" y2="176.20" stroke="#bcbcbc" stroke-width="0.7"/>
<polyline points="338.00,182.43 359.30,171.97 380.60,161.77 401.90,147.07 423.20,131.64 444.50,116.70 465.80,107.73 487.10,97.52 508.40,87.31" fill="none" stroke="#222" stroke-width="1.1" stroke-linejoin="round" />
<polyline points="338.00,188.91 359.30,179.69 380.60,173.97 401.90,170.23 423.20,168.99 444.50,169.73 465.80,171.23 487.10,168.49 508.40,165.00" fill="none" stroke="#111" stroke-width="1.4" stroke-linejoin="round" />
<polyline points="338.00,178.20 359.30,169.48 380.60,158.03 401.90,138.36 423.20,116.20 444.50,96.03 465.80,81.34 487.10,68.89 508.40,57.68" fill="none" stroke="#111" stroke-width="1.6" stroke-linejoin="round" stroke-dasharray="5,3"/>
<polyline points="338.00,170.23 359.30,164.50 380.60,149.32 401.90,126.16 423.20,101.01 444.50,80.34 465.80,64.91 487.10,52.95 508.40,43.49" fill="none" stroke="#8a3050" stroke-width="1.25" stroke-linejoin="round" />
<polygon points="338.00,186.11 340.80,188.91 338.00,191.71 335.20,188.91" fill="#111"/>
<polygon points="359.30,176.89 362.10,179.69 359.30,182.49 356.50,179.69" fill="#111"/>
<polygon points="380.60,171.17 383.40,173.97 380.60,176.77 377.80,173.97" fill="#111"/>
<polygon points="401.90,167.43 404.70,170.23 401.90,173.03 399.10,170.23" fill="#111"/>
<polygon points="423.20,166.19 426.00,168.99 423.20,171.79 420.40,168.99" fill="#111"/>
<polygon points="444.50,166.93 447.30,169.73 444.50,172.53 441.70,169.73" fill="#111"/>
<polygon points="465.80,168.43 468.60,171.23 465.80,174.03 463.00,171.23" fill="#111"/>
<polygon points="487.10,165.69 489.90,168.49 487.10,171.29 484.30,168.49" fill="#111"/>
<polygon points="508.40,162.20 511.20,165.00 508.40,167.80 505.60,165.00" fill="#111"/>
<polygon points="338.00,175.20 341.00,178.20 338.00,181.20 335.00,178.20" fill="#111"/>
<polygon points="359.30,166.48 362.30,169.48 359.30,172.48 356.30,169.48" fill="#111"/>
<polygon points="380.60,155.03 383.60,158.03 380.60,161.03 377.60,158.03" fill="#111"/>
<polygon points="401.90,135.36 404.90,138.36 401.90,141.36 398.90,138.36" fill="#111"/>
<polygon points="423.20,113.20 426.20,116.20 423.20,119.20 420.20,116.20" fill="#111"/>
<polygon points="444.50,93.03 447.50,96.03 444.50,99.03 441.50,96.03" fill="#111"/>
<polygon points="465.80,78.34 468.80,81.34 465.80,84.34 462.80,81.34" fill="#111"/>
<polygon points="487.10,65.89 490.10,68.89 487.10,71.89 484.10,68.89" fill="#111"/>
<polygon points="508.40,54.68 511.40,57.68 508.40,60.68 505.40,57.68" fill="#111"/>
<circle cx="338.00" cy="170.23" r="2.8" fill="#7a1d3d"/>
<circle cx="359.30" cy="164.50" r="2.8" fill="#7a1d3d"/>
<circle cx="380.60" cy="149.32" r="2.8" fill="#7a1d3d"/>
<circle cx="401.90" cy="126.16" r="2.8" fill="#7a1d3d"/>
<circle cx="423.20" cy="101.01" r="2.8" fill="#7a1d3d"/>
<circle cx="444.50" cy="80.34" r="2.8" fill="#7a1d3d"/>
<circle cx="465.80" cy="64.91" r="2.8" fill="#7a1d3d"/>
<circle cx="487.10" cy="52.95" r="2.8" fill="#7a1d3d"/>
<circle cx="508.40" cy="43.49" r="2.8" fill="#7a1d3d"/>
<line x1="336.70" y1="31.20" x2="349.20" y2="31.20" stroke="#111" stroke-width="1.2" />
<polygon points="343.00,28.60 345.60,31.20 343.00,33.80 340.40,31.20" fill="#111"/>
<text transform="translate(352.30,35.30) scale(0.9,1)" font-size="11.3" text-anchor="start" font-weight="normal" fill="#111" >iRBC [80%]</text>
<line x1="336.70" y1="46.00" x2="349.20" y2="46.00" stroke="#666" stroke-width="0.8" />
<line x1="343.00" y1="44.50" x2="343.00" y2="47.50" stroke="#aaa" stroke-width="0.8" />
<text transform="translate(352.30,50.10) scale(0.9,1)" font-size="11.3" text-anchor="start" font-weight="normal" fill="#111" >iRBC [40 - 50%]</text>
<line x1="336.70" y1="60.60" x2="349.20" y2="60.60" stroke="#111" stroke-width="1.2" />
<polygon points="343.00,58.00 345.60,60.60 343.00,63.20 340.40,60.60" fill="#111"/>
<text transform="translate(352.30,64.70) scale(0.9,1)" font-size="11.3" text-anchor="start" font-weight="normal" fill="#111" >iRBC [10 - 25%]</text>
<line x1="336.70" y1="75.80" x2="349.20" y2="75.80" stroke="#8a3050" stroke-width="1.2" />
<circle cx="343.00" cy="75.80" r="2.3" fill="#7a1d3d"/>
<text transform="translate(352.30,79.90) scale(0.9,1)" font-size="11.3" text-anchor="start" font-weight="normal" fill="#111" >healthy control</text>
<text x="2.00" y="255.80" font-size="17.5" text-anchor="start" font-weight="bold" fill="#111" >C</text>
<line x1="59.20" y1="257.60" x2="59.20" y2="407.90" stroke="#3a3a3a" stroke-width="1.3" />
<line x1="53.20" y1="257.60" x2="59.20" y2="257.60" stroke="#3a3a3a" stroke-width="1.3" />
<text transform="translate(44.20,263.90) scale(1,0.93)" font-size="18.8" text-anchor="end" font-weight="normal" fill="#111" >0,6</text>
<line x1="53.20" y1="282.65" x2="59.20" y2="282.65" stroke="#3a3a3a" stroke-width="1.3" />
<text transform="translate(44.20,288.95) scale(1,0.93)" font-size="18.8" text-anchor="end" font-weight="normal" fill="#111" >0,5</text>
<line x1="53.20" y1="307.70" x2="59.20" y2="307.70" stroke="#3a3a3a" stroke-width="1.3" />
<text transform="translate(44.20,314.00) scale(1,0.93)" font-size="18.8" text-anchor="end" font-weight="normal" fill="#111" >0,4</text>
<line x1="53.20" y1="332.75" x2="59.20" y2="332.75" stroke="#3a3a3a" stroke-width="1.3" />
<text transform="translate(44.20,339.05) scale(1,0.93)" font-size="18.8" text-anchor="end" font-weight="normal" fill="#111" >0,3</text>
<line x1="53.20" y1="357.80" x2="59.20" y2="357.80" stroke="#3a3a3a" stroke-width="1.3" />
<text transform="translate(44.20,364.10) scale(1,0.93)" font-size="18.8" text-anchor="end" font-weight="normal" fill="#111" >0,2</text>
<line x1="53.20" y1="382.85" x2="59.20" y2="382.85" stroke="#3a3a3a" stroke-width="1.3" />
<text transform="translate(44.20,389.15) scale(1,0.93)" font-size="18.8" text-anchor="end" font-weight="normal" fill="#111" >0,1</text>
<line x1="53.20" y1="407.90" x2="59.20" y2="407.90" stroke="#3a3a3a" stroke-width="1.3" />
<text transform="translate(44.20,414.20) scale(1,0.93)" font-size="18.8" text-anchor="end" font-weight="normal" fill="#111" >0,0</text>
<line x1="52.50" y1="407.90" x2="252.00" y2="407.90" stroke="#3a3a3a" stroke-width="1.3" />
<line x1="59.20" y1="407.90" x2="59.20" y2="412.40" stroke="#3a3a3a" stroke-width="1.2" />
<text x="59.70" y="430.20" font-size="9.6" text-anchor="middle" font-weight="normal" fill="#222" >0</text>
<line x1="97.56" y1="407.90" x2="97.56" y2="412.40" stroke="#3a3a3a" stroke-width="1.2" />
<text x="98.06" y="430.20" font-size="9.6" text-anchor="middle" font-weight="normal" fill="#222" >20</text>
<line x1="135.92" y1="407.90" x2="135.92" y2="412.40" stroke="#3a3a3a" stroke-width="1.2" />
<text x="136.42" y="430.20" font-size="9.6" text-anchor="middle" font-weight="normal" fill="#222" >40</text>
<line x1="174.28" y1="407.90" x2="174.28" y2="412.40" stroke="#3a3a3a" stroke-width="1.2" />
<text x="174.78" y="430.20" font-size="9.6" text-anchor="middle" font-weight="normal" fill="#222" >60</text>
<line x1="212.64" y1="407.90" x2="212.64" y2="412.40" stroke="#3a3a3a" stroke-width="1.2" />
<text x="213.14" y="430.20" font-size="9.6" text-anchor="middle" font-weight="normal" fill="#222" >80</text>
<line x1="251.00" y1="407.90" x2="251.00" y2="412.40" stroke="#3a3a3a" stroke-width="1.2" />
<text x="251.50" y="430.20" font-size="9.6" text-anchor="middle" font-weight="normal" fill="#222" >100</text>
<text x="122.30" y="442.60" font-size="9.6" text-anchor="start" font-weight="normal" fill="#222" >Parasitaemia (%)</text>
<text transform="translate(10.9,395.6) rotate(-90)" font-size="13.1" fill="#111">Elongation Index (a.u)</text>
<line x1="54.00" y1="292.30" x2="252.00" y2="292.30" stroke="#222" stroke-width="1.3" stroke-dasharray="1.3,1.3"/>
<line x1="71.09" y1="262.36" x2="71.09" y2="284.90" stroke="#999" stroke-width="0.8" stroke-dasharray="1.5,1"/>
<line x1="69.59" y1="262.36" x2="72.59" y2="262.36" stroke="#999" stroke-width="0.8"/>
<line x1="69.59" y1="284.90" x2="72.59" y2="284.90" stroke="#999" stroke-width="0.8"/>
<line x1="92.57" y1="267.37" x2="92.57" y2="292.42" stroke="#999" stroke-width="0.8" stroke-dasharray="1.5,1"/>
<line x1="91.07" y1="267.37" x2="94.07" y2="267.37" stroke="#999" stroke-width="0.8"/>
<line x1="91.07" y1="292.42" x2="94.07" y2="292.42" stroke="#999" stroke-width="0.8"/>
<line x1="134.00" y1="300.44" x2="134.00" y2="328.49" stroke="#999" stroke-width="0.8" stroke-dasharray="1.5,1"/>
<line x1="132.50" y1="300.44" x2="135.50" y2="300.44" stroke="#999" stroke-width="0.8"/>
<line x1="132.50" y1="328.49" x2="135.50" y2="328.49" stroke="#999" stroke-width="0.8"/>
<line x1="190.58" y1="380.34" x2="190.58" y2="407.40" stroke="#999" stroke-width="0.8" stroke-dasharray="1.5,1"/>
<line x1="189.08" y1="380.34" x2="192.08" y2="380.34" stroke="#999" stroke-width="0.8"/>
<line x1="189.08" y1="407.40" x2="192.08" y2="407.40" stroke="#999" stroke-width="0.8"/>
<line x1="71.09" y1="257.60" x2="71.09" y2="267.62" stroke="#999" stroke-width="0.8" stroke-dasharray="1.5,1"/>
<line x1="69.59" y1="257.60" x2="72.59" y2="257.60" stroke="#999" stroke-width="0.8"/>
<line x1="69.59" y1="267.62" x2="72.59" y2="267.62" stroke="#999" stroke-width="0.8"/>
<line x1="92.57" y1="257.60" x2="92.57" y2="267.62" stroke="#999" stroke-width="0.8" stroke-dasharray="1.5,1"/>
<line x1="91.07" y1="257.60" x2="94.07" y2="257.60" stroke="#999" stroke-width="0.8"/>
<line x1="91.07" y1="267.62" x2="94.07" y2="267.62" stroke="#999" stroke-width="0.8"/>
<line x1="134.00" y1="257.60" x2="134.00" y2="267.62" stroke="#999" stroke-width="0.8" stroke-dasharray="1.5,1"/>
<line x1="132.50" y1="257.60" x2="135.50" y2="257.60" stroke="#999" stroke-width="0.8"/>
<line x1="132.50" y1="267.62" x2="135.50" y2="267.62" stroke="#999" stroke-width="0.8"/>
<line x1="190.58" y1="257.60" x2="190.58" y2="267.62" stroke="#999" stroke-width="0.8" stroke-dasharray="1.5,1"/>
<line x1="189.08" y1="257.60" x2="192.08" y2="257.60" stroke="#999" stroke-width="0.8"/>
<line x1="189.08" y1="267.62" x2="192.08" y2="267.62" stroke="#999" stroke-width="0.8"/>
<polyline points="59.20,263.11 71.09,273.63 92.57,279.89 134.00,314.46 190.58,393.62" fill="none" stroke="#111" stroke-width="1.4" stroke-linejoin="round" />
<polyline points="59.20,263.86 71.09,266.62 92.57,268.12 134.00,272.88 190.58,281.40" fill="none" stroke="#2c55cc" stroke-width="1.4" stroke-linejoin="round" />
<polyline points="190.58,281.40 252.00,292.17" fill="none" stroke="#6274d4" stroke-width="1.1" stroke-linejoin="round" stroke-dasharray="1.2,0.8"/>
<polyline points="59.20,262.61 71.09,262.61 92.57,262.61 134.00,262.61 190.58,262.61" fill="none" stroke="#84303f" stroke-width="1.35" stroke-linejoin="round" />
<circle cx="59.20" cy="263.11" r="2.2" fill="#111"/>
<circle cx="71.09" cy="273.63" r="2.2" fill="#111"/>
<circle cx="92.57" cy="279.89" r="2.2" fill="#111"/>
<circle cx="134.00" cy="314.46" r="2.2" fill="#111"/>
<circle cx="190.58" cy="393.62" r="2.2" fill="#111"/>
<polygon points="59.20,261.16 56.70,265.66 61.70,265.66" fill="#2c55cc"/>
<polygon points="71.09,263.92 68.59,268.42 73.59,268.42" fill="#2c55cc"/>
<polygon points="92.57,265.42 90.07,269.92 95.07,269.92" fill="#2c55cc"/>
<polygon points="134.00,270.18 131.50,274.68 136.50,274.68" fill="#2c55cc"/>
<polygon points="190.58,278.70 188.08,283.20 193.08,283.20" fill="#2c55cc"/>
<polygon points="251.50,289.44 249.25,293.49 253.75,293.49" fill="#4a5cc8"/>
<circle cx="59.20" cy="262.61" r="2.7" fill="#5e1526"/>
<circle cx="71.09" cy="262.61" r="2.7" fill="#5e1526"/>
<circle cx="92.57" cy="262.61" r="2.7" fill="#5e1526"/>
<circle cx="134.00" cy="262.61" r="2.7" fill="#5e1526"/>
<circle cx="190.58" cy="262.61" r="2.7" fill="#5e1526"/>
<rect x="199.2" y="309.2" width="29.2" height="13.9" fill="#fff" stroke="#555" stroke-width="0.9"/>
<text x="200.40" y="320.40" font-size="10" text-anchor="start" font-weight="normal" fill="#111" >EI</text>
<text x="209.50" y="322.80" font-size="6.3" text-anchor="start" font-weight="normal" fill="#111" >100%</text>
<line x1="228.00" y1="309.00" x2="247.00" y2="294.50" stroke="#222" stroke-width="0.9" />
<line x1="70.00" y1="357.10" x2="79.20" y2="357.10" stroke="#2c55cc" stroke-width="1.2" />
<polygon points="74.60,354.67 72.35,358.72 76.85,358.72" fill="#2c55cc"/>
<text x="82.70" y="360.80" font-size="10.1" text-anchor="start" font-weight="normal" fill="#111" >ring-iRBC</text>
<line x1="70.00" y1="372.50" x2="79.20" y2="372.50" stroke="#111" stroke-width="1.2" />
<polygon points="74.60,370.30 76.80,372.50 74.60,374.70 72.40,372.50" fill="#111"/>
<text x="82.70" y="376.20" font-size="10.1" text-anchor="start" font-weight="normal" fill="#111" >schizont-iRBC</text>
<line x1="70.00" y1="388.30" x2="79.20" y2="388.30" stroke="#7e2a3e" stroke-width="1.2" />
<circle cx="74.60" cy="388.30" r="2.3" fill="#621528"/>
<text x="82.70" y="392.00" font-size="10.1" text-anchor="start" font-weight="normal" fill="#111" >healthy control</text>
<defs>
<filter id="grain" x="0" y="0" width="100%" height="100%" color-interpolation-filters="sRGB"><feTurbulence type="fractalNoise" baseFrequency="0.5" numOctaves="2" seed="11" result="n"/><feColorMatrix in="n" type="matrix" values="1 0 0 0 0  1 0 0 0 0  1 0 0 0 0  0 0 0 0 1"/></filter>
<filter id="grain2" x="0" y="0" width="100%" height="100%" color-interpolation-filters="sRGB"><feTurbulence type="fractalNoise" baseFrequency="0.12" numOctaves="2" seed="4" result="n"/><feColorMatrix in="n" type="matrix" values="1 0 0 0 0  1 0 0 0 0  1 0 0 0 0  0 0 0 0 1"/></filter>
<filter id="b05"><feGaussianBlur stdDeviation="0.6"/></filter>
<filter id="b1"><feGaussianBlur stdDeviation="1"/></filter>
<filter id="b2"><feGaussianBlur stdDeviation="2"/></filter>
<filter id="b3" x="-20%" y="-20%" width="140%" height="140%"><feGaussianBlur stdDeviation="3"/></filter>
<clipPath id="dclip"><rect x="302" y="289" width="193" height="115"/></clipPath>
<clipPath id="iclip"><rect x="302" y="289" width="111" height="62"/></clipPath>
<linearGradient id="cellg" x1="0" y1="0" x2="1" y2="1"><stop offset="0" stop-color="#8e9db2"/><stop offset="0.6" stop-color="#8393aa"/><stop offset="1" stop-color="#7888a0"/></linearGradient>
</defs>
<g clip-path="url(#dclip)">
<g style="filter:saturate(0.8) contrast(1.12)">
<rect x="302" y="289" width="193" height="115" fill="#4b5a6f"/>
<g filter="url(#b2)">
<rect x="413" y="286" width="85" height="12" fill="#303c4b"/>
<path d="M413 298 L452 301 L452 318 L413 306 Z" fill="#46556a"/>
<path d="M413 306 L452 319 L494 330 L494 346 L452 336 L413 326 Z" fill="#56667d"/>
<path d="M413 327 L452 337 L494 347 L494 356 L452 350 L413 340 Z" fill="#4f5f76"/>
<path d="M416 338 Q430 336 452 346 L452 358 L416 356 Z" fill="#65758d"/>
<path d="M478 289 L497 289 L497 306 L480 305 Z" fill="#8d9aac"/>
</g>
<g filter="url(#b05)">
<path d="M451.5 302 Q466 297.5 481 302 L494 305 L494 331 L489 332 Q470 327 453.5 320.5 Z" fill="#7a8aa3"/>
<path d="M455 304 Q468 300 481 304 L492 308 L492 322 Q472 318 456 312 Z" fill="#8595ad"/>
<path d="M452 302.5 Q466 298 481 302.5 L494 305.5" stroke="#9eabbd" stroke-width="1.5" fill="none"/>
<path d="M418 338 Q432 336 452 345 L452 358 L418 356 Z" fill="#6a7a93"/>
<ellipse cx="428" cy="343" rx="8" ry="5" fill="#7484a0"/>
</g>
<g filter="url(#b05)" stroke="#27323f" fill="none" opacity="0.85">
<path d="M416 300 Q435 305 451 311" stroke-width="1.3"/>
<path d="M416 309.5 Q435 314 452.9 320.5 Q475 327 494 331.6" stroke-width="1.6"/>
<path d="M416 320.5 Q432 325 446.5 330 Q470 336 494 341" stroke-width="1.4"/>
<path d="M451.3 302.4 L454.4 319" stroke-width="1.3"/>
<path d="M484.4 303.2 Q490 310 492.3 328.4" stroke-width="1.0" opacity="0.3"/>
</g>
<g filter="url(#b05)">
<ellipse cx="428" cy="346" rx="9" ry="6" fill="#6f7f98"/>
<ellipse cx="441" cy="350" rx="7" ry="5" fill="#66768f"/>
<ellipse cx="421" cy="336" rx="5" ry="4" fill="#62728a"/>
</g>
<g filter="url(#b2)">
<path d="M300 354 L345 354 L345 362 L300 366 Z" fill="#3f4d61"/>
<path d="M300 372 L330 374 L336 386 L300 386 Z" fill="#56667e"/>
<path d="M335 376 L372 376 L376 406 L334 406 Z" fill="#6e7e96"/>
<path d="M362 354 L398 354 L398 372 L364 376 Z" fill="#3c495b"/>
<path d="M449 350 L497 350 L497 382 L470 376 L449 368 Z" fill="#364355"/>
<path d="M404 354 L450 354 L450 366 L404 362 Z" fill="#313d4d"/>
<path d="M440 392 L497 396 L497 406 L440 406 Z" fill="#36424f"/>
</g>
<g filter="url(#b1)">
<path d="M302 358 Q322 356 336 366 L334 374 Q318 370 302 370 Z" fill="#66768f"/>
<path d="M316 356 Q330 354 345 364 L362 384 L352 388 L330 372 Z" fill="#7484a0"/>
<ellipse cx="346" cy="396" rx="11" ry="8" fill="#7a8aa2"/>
<path d="M380 354.6 L414.6 363.8 L449 370.8 L477 377.7 L497 384.6 L497 396 L460.8 391.5 L426 384.6 L393.8 375.4 L380 368 Z" fill="#627189"/>
<path d="M382 356 L414.6 365 L449 372 L477 379 L497 386 L497 389 L477 382 L449 375 L414.6 368 L382 360 Z" fill="#72829b"/>
<path d="M380 382 L420 388 L456 398 L462 406 L378 406 Z" fill="#6d7d97"/>
<path d="M376 372 L392 378 L388 384 L374 382 Z" fill="#5a6a82"/>
</g>
<g filter="url(#b1)" stroke="#26313f" fill="none" opacity="0.7">
<path d="M346 358 Q360 372 372 388 L382 404" stroke-width="1.4"/>
<path d="M302 371 Q318 372 334 378" stroke-width="1.2"/>
<path d="M393.8 377 L426 386.4 L460.8 393.3 L497 398" stroke-width="2.2"/>
<path d="M380 353.5 L414.6 362.5 L449 369.5 L477 376.5 L497 383" stroke-width="1.5"/>
</g>
<g filter="url(#b1)" opacity="0.75">
<ellipse cx="362.7" cy="395.7" rx="2.8" ry="2.4" fill="#90a0b4" opacity="0.8"/>
<ellipse cx="335.3" cy="386.9" rx="3.1" ry="2.0" fill="#7b8ba2" opacity="0.8"/>
<ellipse cx="339.2" cy="387.0" rx="1.7" ry="1.8" fill="#90a0b4" opacity="0.8"/>
<ellipse cx="345.5" cy="395.4" rx="2.0" ry="1.3" fill="#3a4658" opacity="0.8"/>
<ellipse cx="341.3" cy="397.5" rx="1.5" ry="1.9" fill="#7b8ba2" opacity="0.8"/>
<ellipse cx="340.1" cy="403.1" rx="1.2" ry="2.2" fill="#7b8ba2" opacity="0.8"/>
<ellipse cx="374.1" cy="381.3" rx="3.1" ry="1.8" fill="#7b8ba2" opacity="0.8"/>
<ellipse cx="342.4" cy="403.0" rx="1.6" ry="2.4" fill="#3a4658" opacity="0.8"/>
<ellipse cx="347.7" cy="383.6" rx="1.5" ry="1.2" fill="#8494aa" opacity="0.8"/>
<ellipse cx="349.3" cy="398.2" rx="2.4" ry="1.9" fill="#2f3b4a" opacity="0.8"/>
<ellipse cx="337.0" cy="383.4" rx="1.8" ry="2.0" fill="#7b8ba2" opacity="0.8"/>
<ellipse cx="356.1" cy="394.5" rx="1.3" ry="2.5" fill="#8494aa" opacity="0.8"/>
<ellipse cx="377.7" cy="383.4" rx="2.0" ry="1.8" fill="#3a4658" opacity="0.8"/>
<ellipse cx="350.8" cy="390.5" rx="1.2" ry="1.1" fill="#7b8ba2" opacity="0.8"/>
<ellipse cx="362.7" cy="402.5" rx="1.4" ry="1.4" fill="#3a4658" opacity="0.8"/>
<ellipse cx="349.8" cy="383.4" rx="2.2" ry="2.2" fill="#8494aa" opacity="0.8"/>
<ellipse cx="361.1" cy="397.0" rx="1.9" ry="1.4" fill="#3a4658" opacity="0.8"/>
<ellipse cx="377.5" cy="374.9" rx="1.9" ry="1.9" fill="#7b8ba2" opacity="0.8"/>
<ellipse cx="349.6" cy="401.6" rx="2.3" ry="1.5" fill="#2f3b4a" opacity="0.8"/>
<ellipse cx="348.1" cy="397.6" rx="2.5" ry="2.1" fill="#2f3b4a" opacity="0.8"/>
<ellipse cx="379.8" cy="377.2" rx="1.3" ry="2.5" fill="#90a0b4" opacity="0.8"/>
<ellipse cx="376.5" cy="373.0" rx="2.7" ry="1.5" fill="#2f3b4a" opacity="0.8"/>
<ellipse cx="355.0" cy="385.5" rx="1.3" ry="2.4" fill="#8494aa" opacity="0.8"/>
<ellipse cx="370.9" cy="382.7" rx="1.6" ry="2.5" fill="#90a0b4" opacity="0.8"/>
<ellipse cx="377.7" cy="392.2" rx="2.8" ry="1.2" fill="#3a4658" opacity="0.8"/>
<ellipse cx="351.2" cy="373.9" rx="2.0" ry="1.2" fill="#90a0b4" opacity="0.8"/>
<ellipse cx="373.2" cy="403.2" rx="2.1" ry="1.7" fill="#2f3b4a" opacity="0.8"/>
<ellipse cx="356.0" cy="381.3" rx="2.0" ry="1.2" fill="#3a4658" opacity="0.8"/>
<ellipse cx="371.8" cy="389.0" rx="1.6" ry="2.4" fill="#2f3b4a" opacity="0.8"/>
<ellipse cx="342.3" cy="387.7" rx="2.2" ry="1.8" fill="#90a0b4" opacity="0.8"/>
<ellipse cx="350.6" cy="397.2" rx="2.7" ry="2.0" fill="#8494aa" opacity="0.8"/>
<ellipse cx="368.9" cy="383.6" rx="2.6" ry="1.4" fill="#3a4658" opacity="0.8"/>
<ellipse cx="346.2" cy="403.4" rx="2.6" ry="2.4" fill="#2f3b4a" opacity="0.8"/>
<ellipse cx="363.9" cy="390.6" rx="1.2" ry="1.8" fill="#2f3b4a" opacity="0.8"/>
<ellipse cx="316.0" cy="363.7" rx="2.2" ry="1.8" fill="#2f3b4a" opacity="0.7" transform="rotate(25 316.0 363.7)"/>
<ellipse cx="317.0" cy="374.0" rx="3.3" ry="2.2" fill="#2f3b4a" opacity="0.7" transform="rotate(25 317.0 374.0)"/>
<ellipse cx="341.7" cy="360.8" rx="3.7" ry="1.7" fill="#2f3b4a" opacity="0.7" transform="rotate(25 341.7 360.8)"/>
<ellipse cx="343.1" cy="370.5" rx="2.8" ry="1.2" fill="#2f3b4a" opacity="0.7" transform="rotate(25 343.1 370.5)"/>
<ellipse cx="342.3" cy="369.4" rx="3.2" ry="2.1" fill="#394557" opacity="0.7" transform="rotate(25 342.3 369.4)"/>
<ellipse cx="309.4" cy="377.9" rx="3.0" ry="2.0" fill="#394557" opacity="0.7" transform="rotate(25 309.4 377.9)"/>
<ellipse cx="315.0" cy="371.5" rx="3.7" ry="1.4" fill="#7a8aa2" opacity="0.7" transform="rotate(25 315.0 371.5)"/>
<ellipse cx="310.4" cy="372.4" rx="3.1" ry="1.3" fill="#6f7f98" opacity="0.7" transform="rotate(25 310.4 372.4)"/>
<ellipse cx="329.1" cy="357.2" rx="2.7" ry="1.3" fill="#7a8aa2" opacity="0.7" transform="rotate(25 329.1 357.2)"/>
<ellipse cx="340.3" cy="359.1" rx="3.9" ry="1.7" fill="#7a8aa2" opacity="0.7" transform="rotate(25 340.3 359.1)"/>
<ellipse cx="319.9" cy="365.8" rx="3.2" ry="1.1" fill="#6f7f98" opacity="0.7" transform="rotate(25 319.9 365.8)"/>
<ellipse cx="312.2" cy="381.3" rx="1.5" ry="1.6" fill="#2f3b4a" opacity="0.7" transform="rotate(25 312.2 381.3)"/>
<ellipse cx="338.8" cy="380.3" rx="3.2" ry="1.8" fill="#7a8aa2" opacity="0.7" transform="rotate(25 338.8 380.3)"/>
<ellipse cx="325.6" cy="364.4" rx="2.2" ry="1.8" fill="#2f3b4a" opacity="0.7" transform="rotate(25 325.6 364.4)"/>
<ellipse cx="343.2" cy="378.9" rx="2.5" ry="2.2" fill="#2f3b4a" opacity="0.7" transform="rotate(25 343.2 378.9)"/>
<ellipse cx="322.1" cy="360.4" rx="2.5" ry="1.7" fill="#6f7f98" opacity="0.7" transform="rotate(25 322.1 360.4)"/>
<ellipse cx="343.6" cy="373.0" rx="2.4" ry="2.3" fill="#7a8aa2" opacity="0.7" transform="rotate(25 343.6 373.0)"/>
<ellipse cx="318.4" cy="365.1" rx="3.8" ry="1.8" fill="#2f3b4a" opacity="0.7" transform="rotate(25 318.4 365.1)"/>
<ellipse cx="329.1" cy="381.0" rx="2.4" ry="1.6" fill="#6f7f98" opacity="0.7" transform="rotate(25 329.1 381.0)"/>
<ellipse cx="323.2" cy="369.4" rx="3.3" ry="1.6" fill="#6f7f98" opacity="0.7" transform="rotate(25 323.2 369.4)"/>
<ellipse cx="327.6" cy="363.3" rx="4.0" ry="1.7" fill="#394557" opacity="0.7" transform="rotate(25 327.6 363.3)"/>
<ellipse cx="302.8" cy="382.5" rx="2.3" ry="2.4" fill="#6f7f98" opacity="0.7" transform="rotate(25 302.8 382.5)"/>
<ellipse cx="432.7" cy="336.2" rx="2.7" ry="1.7" fill="#2f3b4a" opacity="0.7"/>
<ellipse cx="418.3" cy="336.5" rx="2.3" ry="1.7" fill="#6f7f98" opacity="0.7"/>
<ellipse cx="426.0" cy="350.8" rx="3.1" ry="1.4" fill="#2f3b4a" opacity="0.7"/>
<ellipse cx="444.8" cy="347.0" rx="2.1" ry="1.7" fill="#2f3b4a" opacity="0.7"/>
<ellipse cx="434.1" cy="349.5" rx="3.3" ry="2.3" fill="#7a8aa2" opacity="0.7"/>
<ellipse cx="442.1" cy="339.4" rx="2.6" ry="1.5" fill="#2f3b4a" opacity="0.7"/>
<ellipse cx="441.1" cy="334.5" rx="2.2" ry="2.0" fill="#6f7f98" opacity="0.7"/>
<ellipse cx="421.4" cy="334.1" rx="2.6" ry="2.0" fill="#7a8aa2" opacity="0.7"/>
<ellipse cx="446.3" cy="343.8" rx="1.5" ry="2.2" fill="#2f3b4a" opacity="0.7"/>
<ellipse cx="436.6" cy="346.4" rx="3.4" ry="2.0" fill="#2f3b4a" opacity="0.7"/>
<ellipse cx="432.7" cy="346.3" rx="2.9" ry="2.3" fill="#2f3b4a" opacity="0.7"/>
<ellipse cx="444.4" cy="335.2" rx="3.2" ry="2.0" fill="#2f3b4a" opacity="0.7"/>
<ellipse cx="436.2" cy="345.7" rx="2.4" ry="1.5" fill="#7a8aa2" opacity="0.7"/>
<ellipse cx="432.8" cy="343.9" rx="2.5" ry="1.5" fill="#7a8aa2" opacity="0.7"/>
</g>
<g filter="url(#b05)">
<ellipse cx="376.7" cy="361" rx="7.8" ry="4.2" fill="#7d8da5"/>
<circle cx="428.5" cy="357" r="4.8" fill="#7a8aa0"/>
<ellipse cx="442" cy="356" rx="8.5" ry="7.5" fill="#6c7c95"/>
<circle cx="449.5" cy="296.5" r="2.5" fill="#7a8898"/>
</g>
<g clip-path="url(#iclip)">
<rect x="302" y="289" width="111" height="62" fill="#3d4a5c"/>
<g filter="url(#b2)">
<rect x="302" y="289" width="26" height="9" fill="#4e5d72"/>
<path d="M302 335 L318 330 L318 351 L302 351 Z" fill="#46556a"/>
<path d="M392 300 L413 298 L413 312 L388 312 Z" fill="#4a596e"/>
<path d="M376 315 L413 316 L413 323 L376 322 Z" fill="#5c6c83"/>
<path d="M372 324 L413 327 L413 333 L372 331 Z" fill="#2a3543"/>
<path d="M386 334 L413 334 L413 351 L386 351 Z" fill="#66768e"/>
</g>
<g filter="url(#b05)">
<ellipse cx="326.5" cy="339.2" rx="10.8" ry="8" fill="#6d7d96" stroke="#56657b" stroke-width="1"/>
<path d="M330 294 C 342 292, 352 297, 357 302 C 362 308, 365 318, 369 326 C 373 334, 382 339, 389 341 C 393 343, 392 347, 387 347.5 C 375 348, 355 346, 345 344.5 C 330 341, 318 332, 310 318 C 305 310, 307 300, 318 296 C 322 294.5, 326 294, 330 294 Z" fill="url(#cellg)"/>
<path d="M309 315 C 316 328, 330 340, 345 344.5 C 355 346, 368 347.5, 386 347.5" fill="none" stroke="#4a586c" stroke-width="1.2"/>
<path d="M354 310 C 355 306, 362 304.5, 367 303.5 C 368 298, 366 292, 366.5 289 L 408 289 C 406 294, 398 299, 391 303 C 388 307, 384 310, 378 311.5 C 370 312.5, 360 312.5, 354 310 Z" fill="#c2ccd8"/>
<ellipse cx="378" cy="298.5" rx="4.5" ry="3.8" fill="#8f9db0"/>
<ellipse cx="392" cy="294" rx="3.5" ry="3" fill="#9aa7b8"/>
</g>
<g filter="url(#b05)" stroke="#f1f4f8" fill="none" stroke-linecap="round">
<path d="M367 289 Q368 297 370 303" stroke-width="2"/>
<path d="M371 302 Q374 296 379 291" stroke-width="1.8"/>
<path d="M354.5 308.5 Q360 306 367 306" stroke-width="2.6"/>
<path d="M383 289.5 Q394 293 407 289.5" stroke-width="1.8"/>
<path d="M385 301 Q392 299 397 292" stroke-width="1.6"/>
<path d="M372 309 Q380 309 386 305" stroke-width="1.4"/>
</g>
</g>
<rect x="302" y="289" width="193" height="115" filter="url(#grain)" style="mix-blend-mode:overlay" opacity="0.22"/>
<rect x="302" y="289" width="193" height="115" filter="url(#grain2)" style="mix-blend-mode:overlay" opacity="0.22"/>
</g>
<path d="M413 287 V 352.8 H 300" fill="none" stroke="#fbfcfd" stroke-width="3.8"/>
<polygon points="449.5,300 446.9,304.5 448.5,304.5 448.5,310.8 450.5,310.8 450.5,304.5 452.1,304.5" fill="#f4f6f8"/>
<polygon points="375.3,365.3 372.7,369.8 374.3,369.8 374.3,376.3 376.3,376.3 376.3,369.8 377.90000000000003,369.8" fill="#f4f6f8"/>
<polygon points="428.4,362.2 425.79999999999995,366.7 427.4,366.7 427.4,373.3 429.4,373.3 429.4,366.7 431.0,366.7" fill="#f4f6f8"/>
<polygon points="442.6,362.2 440.0,366.7 441.6,366.7 441.6,373.3 443.6,373.3 443.6,366.7 445.20000000000005,366.7" fill="#f4f6f8"/>
<text x="467.80" y="318.00" font-size="10" text-anchor="start" font-weight="bold" fill="#eef1f5" >N</text>
<rect x="467.7" y="392.1" width="18.3" height="3.9" fill="#fbfcfd"/>
<rect x="302" y="384.4" width="33" height="19.6" fill="#fff"/>
<text x="313.00" y="399.70" font-size="17.6" text-anchor="start" font-weight="bold" fill="#000" >D</text>
<line x1="302" y1="403.6" x2="335" y2="403.6" stroke="#222" stroke-width="1"/>
</g>
</svg>
</body></html>
